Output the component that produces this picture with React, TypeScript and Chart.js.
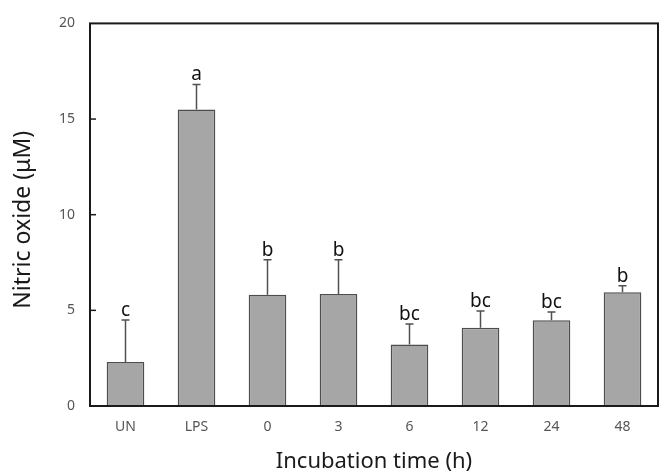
import React, { useEffect, useRef } from "react";
import { Chart, registerables } from "chart.js";
Chart.register(...registerables);

const categories = ["UN", "LPS", "0", "3", "6", "12", "24", "48"];
const means = [2.3, 15.5, 5.82, 5.85, 3.21, 4.09, 4.48, 5.94];
const errors = [2.19, 1.31, 1.82, 1.79, 1.07, 0.87, 0.44, 0.35];
const letters = ["c", "a", "b", "b", "bc", "bc", "bc", "b"];
const yTicks = [0, 5, 10, 15, 20];
const xTitle = "Incubation time (h)";
const yTitle = "Nitric oxide (\u03bcM)";

export default function App() {
  const ref = useRef<HTMLCanvasElement>(null);
  useEffect(() => {
    document.body.style.margin = "0";
    const canvas = ref.current!;
    const overlay = {
      id: "overlay",
      afterDatasetsDraw(chart: any) {
        const { ctx, chartArea, scales } = chart;
        const y = scales.y;
        ctx.save();
        const meta = chart.getDatasetMeta(0);
        meta.data.forEach((bar: any, i: number) => {
          const cx = bar.x;
          const yTop = y.getPixelForValue(means[i]);
          const yErr = y.getPixelForValue(means[i] + errors[i]);
          ctx.strokeStyle = "#505050";
          ctx.lineWidth = 1.5;
          ctx.beginPath();
          ctx.moveTo(cx, yTop);
          ctx.lineTo(cx, yErr);
          ctx.moveTo(cx - 4, yErr);
          ctx.lineTo(cx + 4, yErr);
          ctx.stroke();
          ctx.fillStyle = "#111";
          ctx.font = '19px "Noto Sans"';
          ctx.textAlign = "center";
          ctx.textBaseline = "alphabetic";
          ctx.fillText(letters[i], cx, yErr - 4);
        });
        ctx.strokeStyle = "#1a1a1a";
        ctx.lineWidth = 2;
        ctx.strokeRect(chartArea.left, chartArea.top, chartArea.right - chartArea.left, chartArea.bottom - chartArea.top);
        ctx.lineWidth = 1.5;
        yTicks.forEach((v) => {
          if (v === 0 || v === 20) return;
          const py = y.getPixelForValue(v);
          ctx.beginPath();
          ctx.moveTo(chartArea.left, py);
          ctx.lineTo(chartArea.left + 6, py);
          ctx.stroke();
        });
        ctx.fillStyle = "#1a1a1a";
        ctx.font = '22px "Noto Sans"';
        ctx.textAlign = "center";
        ctx.textBaseline = "middle";
        ctx.fillText(xTitle, (chartArea.left + chartArea.right) / 2, 462);
        ctx.translate(23, (chartArea.top + chartArea.bottom) / 2 + 5);
        ctx.rotate(-Math.PI / 2);
        ctx.font = '23px "Noto Sans"';
        ctx.fillText(yTitle, 0, 0);
        ctx.restore();
      },
    };
    const chart = new Chart(canvas, {
      type: "bar",
      data: {
        labels: categories,
        datasets: [
          {
            data: means,
            backgroundColor: "#a6a6a6",
            borderColor: "#4d4d4d",
            borderWidth: 1.4,
            categoryPercentage: 1,
            barPercentage: 0.53,
          },
        ],
      },
      options: {
        animation: false,
        responsive: false,
        layout: { padding: { left: 0, top: 20, right: 4, bottom: 0 } },
        plugins: { legend: { display: false }, tooltip: { enabled: false } },
        scales: {
          x: {
            grid: { display: false, drawTicks: false },
            border: { display: false },
            ticks: { color: "#555", font: { family: "Noto Sans", size: 14 }, padding: 13 },
            afterFit: (s: any) => { s.height = 68; },
          },
          y: {
            min: 0,
            max: 20,
            grid: { display: false, drawTicks: false },
            border: { display: false },
            ticks: { stepSize: 5, color: "#555", font: { family: "Noto Sans", size: 14 }, padding: 15 },
            afterFit: (s: any) => { s.width = 90; },
          },
        },
      },
      plugins: [overlay],
    });
    return () => chart.destroy();
  }, []);
  return <canvas ref={ref} width={662} height={474} style={{ display: "block" }} />;
}
